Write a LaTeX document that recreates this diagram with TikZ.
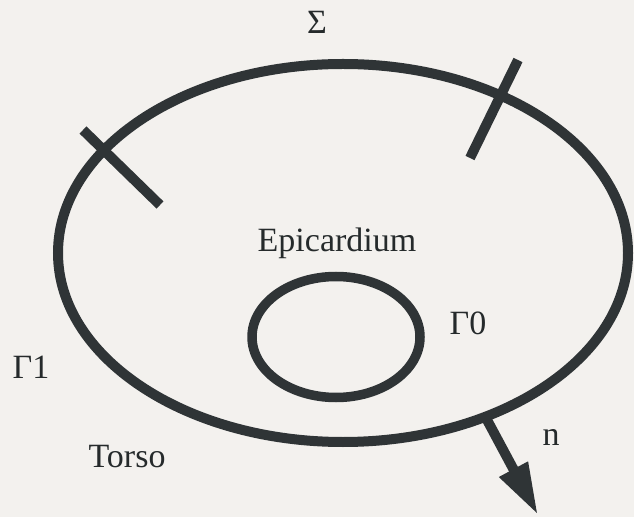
\documentclass[tikz,border=0pt]{standalone}
\usepackage{fontspec}
\setmainfont{Liberation Serif}
\usetikzlibrary{shapes.geometric,arrows.meta}
\definecolor{ink}{RGB}{47,52,54}
\definecolor{paper}{RGB}{243,241,238}
\begin{document}
\begin{tikzpicture}[x=1pt, y=1pt, line cap=butt, font=\fontsize{34}{40}\selectfont, text=ink!80!black,
    wall/.style={draw=ink, ellipse, inner sep=0pt, outer sep=0pt, line width=10pt},
    cut/.style={draw=ink, line width=10pt},
    normal/.style={draw=ink, line width=10pt, -{Triangle[length=52pt,width=30pt]}}]
    \fill[paper] (0,0) rectangle (634,517);
    \useasboundingbox (0,0) rectangle (634,517);
    \node[wall, minimum width=570pt, minimum height=378pt] (body) at (343,264) {};
    \node[wall, line width=9.5pt, minimum width=168pt, minimum height=121pt] (heart) at (336,180) {};
    \draw[cut] (83,387) -- (160,312);
    \draw[cut] (518,457) -- (470,359);
    \coordinate (tip) at (538,2);
    \draw[normal] (body.-49) -- (tip);
    \node (sigma) at (317,495) {Σ};
    \node (epi) at (337,274) {Epicardium};
    \node (gamma0) at (468,194) {Γ0};
    \node (gamma1) at (31,150) {Γ1};
    \node (torso) at (127,60) {Torso};
    \node (n) at (551,80) {n};
\end{tikzpicture}
\end{document}
